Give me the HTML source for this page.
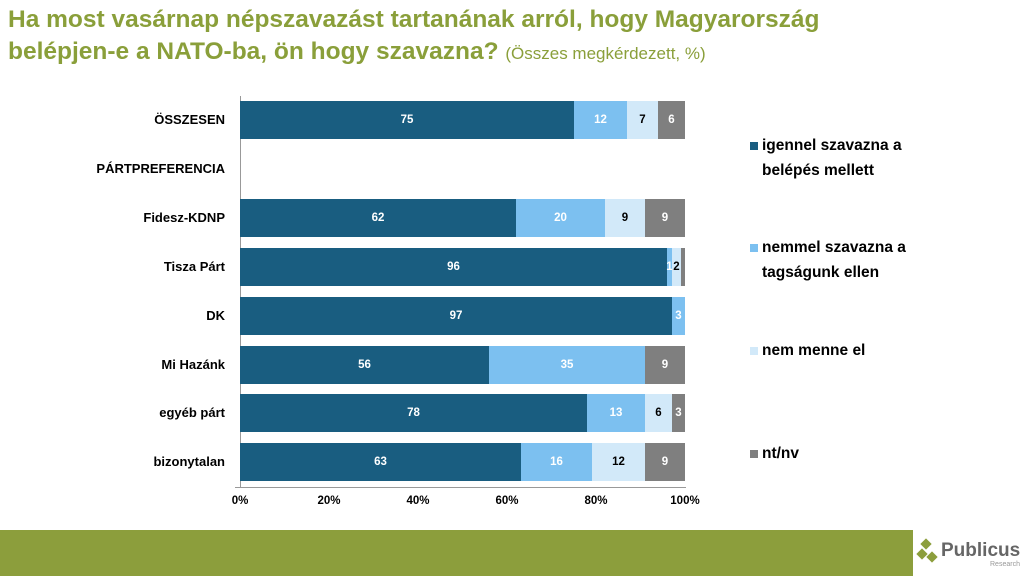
<!DOCTYPE html>
<html><head><meta charset="utf-8"><style>
body{margin:0;width:1024px;height:576px;position:relative;background:#fff;font-family:"Liberation Sans",sans-serif;overflow:hidden}
.t{position:absolute;left:8px;top:4px;color:#8a9f3a;font-weight:bold;font-size:24.5px;line-height:32px;white-space:nowrap}
.t span{font-weight:normal;font-size:17px}
.lab{position:absolute;right:799px;font-size:13px;font-weight:bold;color:#000;text-align:right;white-space:nowrap}
.bar{position:absolute;height:38px}
.seg{position:absolute;top:0;height:38px;font-size:11.5px;font-weight:bold;display:flex;align-items:center;justify-content:center;color:#fff}
.a{background:#195d80}.b{background:#7cc0f0}.c{background:#d2e9f9;color:#000}.d{background:#7f7f7f}
.tick{position:absolute;top:495px;font-size:11.5px;font-weight:bold;width:40px;text-align:center;margin-left:-20px}
.lg{position:absolute;left:762px;font-size:15.5px;font-weight:bold;line-height:25px}
.sq{position:absolute;left:-12px;top:9px;width:8px;height:8px}
</style></head><body>
<div class="t">Ha most vasárnap népszavazást tartanának arról, hogy Magyarország<br>belépjen-e a NATO-ba, ön hogy szavazna? <span>(Összes megkérdezett, %)</span></div>
<div style="position:absolute;left:240px;top:96px;width:1px;height:392px;background:#999"></div>
<div style="position:absolute;left:235px;top:487px;width:451px;height:1px;background:#999"></div>

<div class="lab" style="top:112px">ÖSSZESEN</div>
<div class="lab" style="top:161px">PÁRTPREFERENCIA</div>
<div class="lab" style="top:210px">Fidesz-KDNP</div>
<div class="lab" style="top:259px">Tisza Párt</div>
<div class="lab" style="top:308px">DK</div>
<div class="lab" style="top:357px">Mi Hazánk</div>
<div class="lab" style="top:405px">egyéb párt</div>
<div class="lab" style="top:454px">bizonytalan</div>

<div class="bar" style="left:240px;top:101px">
<div class="seg a" style="left:0;width:334px">75</div><div class="seg b" style="left:334px;width:53px">12</div><div class="seg c" style="left:387px;width:31px">7</div><div class="seg d" style="left:418px;width:27px">6</div></div>
<div class="bar" style="left:240px;top:199px">
<div class="seg a" style="left:0;width:276px">62</div><div class="seg b" style="left:276px;width:89px">20</div><div class="seg c" style="left:365px;width:40px">9</div><div class="seg d" style="left:405px;width:40px">9</div></div>
<div class="bar" style="left:240px;top:248px">
<div class="seg a" style="left:0;width:427px">96</div><div class="seg b" style="left:427px;width:5px">1</div><div class="seg c" style="left:432px;width:9px">2</div><div class="seg d" style="left:441px;width:4px"></div></div>
<div class="bar" style="left:240px;top:297px">
<div class="seg a" style="left:0;width:432px">97</div><div class="seg b" style="left:432px;width:13px">3</div></div>
<div class="bar" style="left:240px;top:346px">
<div class="seg a" style="left:0;width:249px">56</div><div class="seg b" style="left:249px;width:156px">35</div><div class="seg d" style="left:405px;width:40px">9</div></div>
<div class="bar" style="left:240px;top:394px">
<div class="seg a" style="left:0;width:347px">78</div><div class="seg b" style="left:347px;width:58px">13</div><div class="seg c" style="left:405px;width:27px">6</div><div class="seg d" style="left:432px;width:13px">3</div></div>
<div class="bar" style="left:240px;top:443px">
<div class="seg a" style="left:0;width:281px">63</div><div class="seg b" style="left:281px;width:71px">16</div><div class="seg c" style="left:352px;width:53px">12</div><div class="seg d" style="left:405px;width:40px">9</div></div>

<div class="tick" style="left:240px">0%</div><div class="tick" style="left:329px">20%</div><div class="tick" style="left:418px">40%</div><div class="tick" style="left:507px">60%</div><div class="tick" style="left:596px">80%</div><div class="tick" style="left:685px">100%</div>

<div class="lg" style="top:133px"><div class="sq a"></div>igennel szavazna a<br>belépés mellett</div>
<div class="lg" style="top:235px"><div class="sq b"></div>nemmel szavazna a<br>tagságunk ellen</div>
<div class="lg" style="top:338px"><div class="sq" style="background:#d2e9f9"></div>nem menne el</div>
<div class="lg" style="top:441px"><div class="sq d"></div>nt/nv</div>

<div style="position:absolute;left:0;top:530px;width:913px;height:46px;background:#8c9e3c"></div>
<div style="position:absolute;left:922px;top:540px;width:8px;height:8px;background:#8c9e3c;transform:rotate(45deg)"></div>
<div style="position:absolute;left:918px;top:550px;width:8px;height:8px;background:#8c9e3c;transform:rotate(45deg)"></div>
<div style="position:absolute;left:928px;top:553px;width:8px;height:8px;background:#8c9e3c;transform:rotate(45deg)"></div>
<div style="position:absolute;left:941px;top:540px;font-size:19px;font-weight:bold;color:#666">Publicus</div>
<div style="position:absolute;left:990px;top:561px;font-size:7px;color:#999">Research</div>
</body></html>
